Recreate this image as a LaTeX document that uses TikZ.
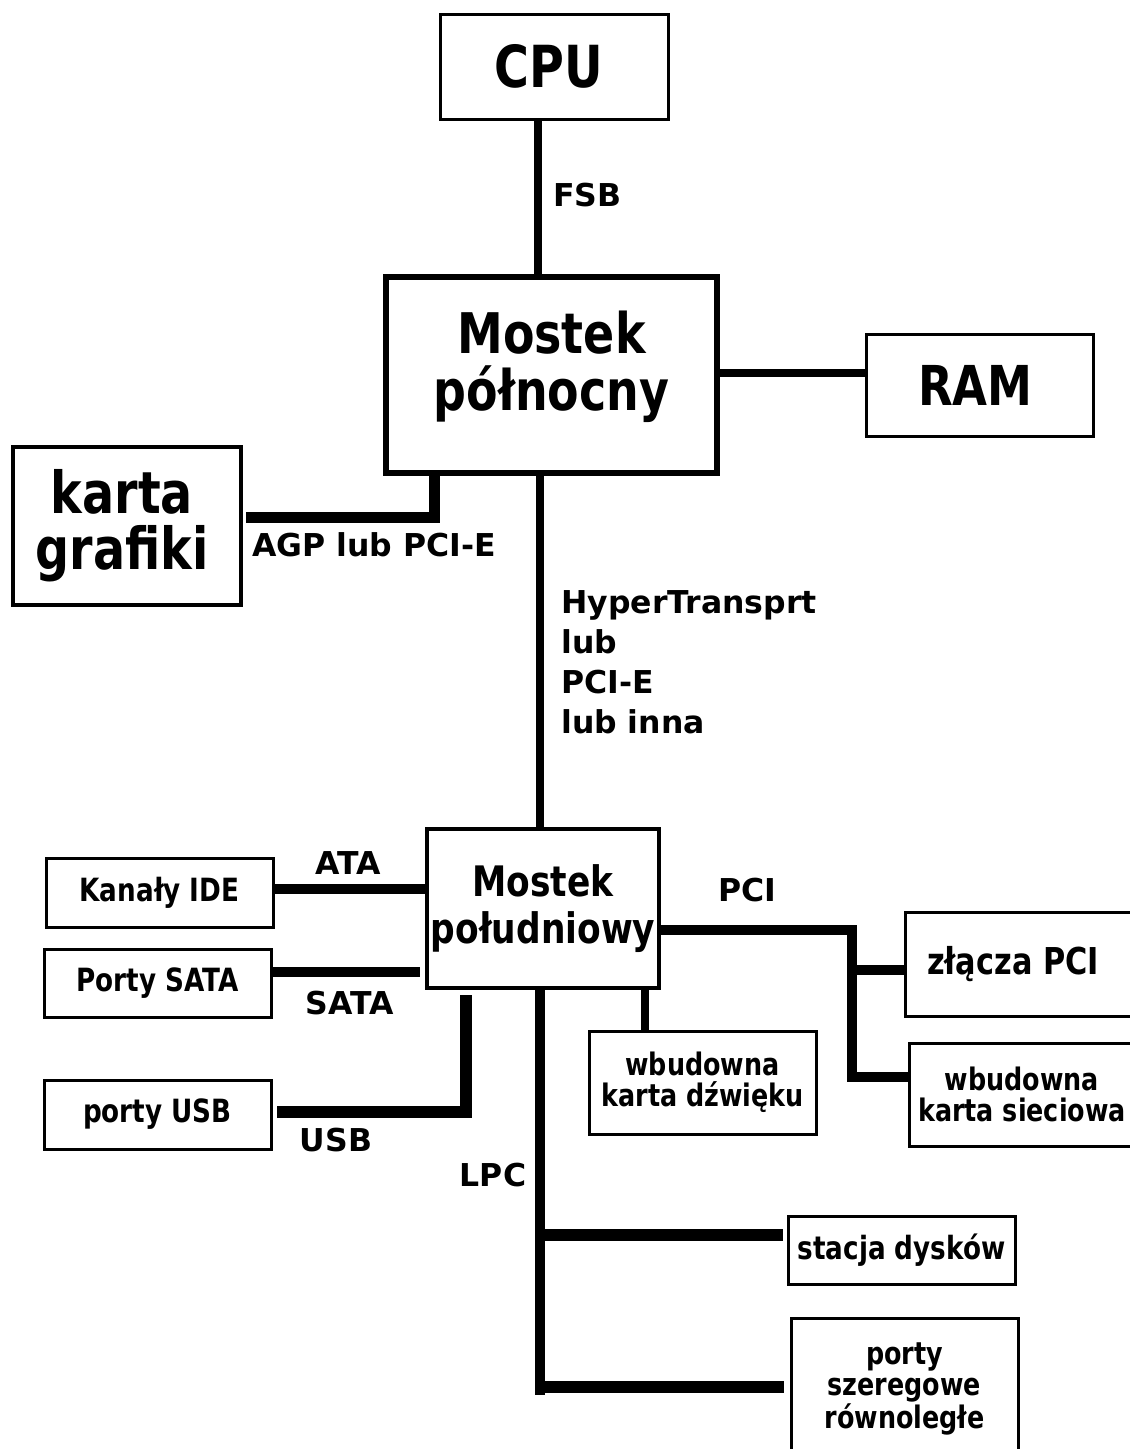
\documentclass[tikz,border=0pt]{standalone}
\usepackage{fontspec}
\newfontfamily\cf{DejaVu Sans}[FakeStretch=0.82]
\newfontfamily\lf{DejaVu Sans}
\newcommand\fsz[2]{\fontsize{#1}{#2}\selectfont}
\begin{document}
\begin{tikzpicture}[x=1pt,y=-1pt,
  box/.style={draw, line width=3pt, inner sep=0pt, align=center},
  bt/.style={font=\cf\bfseries\fsz{#1}{#1}},
  lbl/.style={font=\lf\bfseries\fsz{31.5}{40}, inner sep=0pt},
  bus/.style={line width=8pt}]
\path[fill=white,use as bounding box] (0,0) rectangle (1130,1449);
% boxes
\node[box, minimum width=228pt, minimum height=105pt, bt=58] (cpu) at (554,66.5) {\hspace*{-10pt}CPU};
\node[box, line width=6pt, minimum width=331pt, minimum height=196pt, font=\cf\bfseries\fsz{56}{57}] (nb) at (551.5,375) {Mostek\\północny\\[-28pt]\mbox{}};
\node[box, minimum width=227pt, minimum height=102pt, bt=55] (ram) at (979.5,385) {\hspace*{-8pt}RAM};
\node[box, line width=3.5pt, minimum width=228pt, minimum height=158pt, font=\cf\bfseries\fsz{58}{56}] (gpu) at (127,526) {\hspace*{-10pt}karta\\\hspace*{-10pt}grafiki};
\node[box, line width=3.5pt, minimum width=232pt, minimum height=159pt, font=\cf\bfseries\fsz{42}{47}] (sb) at (543,908.5) {Mostek\\południowy};
\node[box, minimum width=227pt, minimum height=69pt, bt=32] (ide) at (159.5,892.5) {Kanały IDE};
\node[box, minimum width=227pt, minimum height=68pt, bt=32] (sata) at (157.5,983) {Porty SATA};
\node[box, minimum width=227pt, minimum height=69pt, bt=32] (usb) at (157.5,1114.5) {porty USB};
\node[box, minimum width=227pt, minimum height=103pt, font=\cf\bfseries\fsz{31}{31}] (snd) at (702.5,1082.5) {wbudowna\\karta dźwięku};
\node[box, minimum width=230pt, minimum height=104pt, bt=37] (pci) at (1020,964) {\hspace*{-14pt}złącza PCI};
\node[box, minimum width=226pt, minimum height=103pt, font=\cf\bfseries\fsz{31}{31}] (net) at (1022,1094.5) {wbudowna\\karta sieciowa};
\node[box, minimum width=227pt, minimum height=68pt, bt=32] (fdd) at (901.5,1250) {stacja dysków};
\node[box, minimum width=227pt, minimum height=142pt, font=\cf\bfseries\fsz{31}{31}] (ser) at (904.5,1389) {porty\\szeregowe\\równoległe};
% helper coordinates
\coordinate (fsbx) at (538,0);
\coordinate (htx) at (540,0);
\coordinate (agpc) at (434,517);
\coordinate (ramy) at (0,373);
\coordinate (idey) at (0,889);
\coordinate (satae) at (420,972);
\coordinate (usbt) at (466,995);
\coordinate (usbc) at (466,1112);
\coordinate (pcic) at (852,930);
\coordinate (pcib) at (852,1077);
\coordinate (pcim) at (852,970);
\coordinate (sndx) at (645,0);
\coordinate (lpcb) at (540,1395);
\coordinate (fddy) at (545,1235);
\coordinate (sery) at (545,1387);
% connectors
\draw[bus] (cpu.south -| fsbx) -- (nb.north -| fsbx);
\draw[bus] (nb.east |- ramy) -- (ram.west |- ramy);
\draw[bus, line width=11pt, shorten >=3pt] (nb.south -| agpc) -- (agpc) -- (gpu.east |- agpc);
\draw[bus] (nb.south -| htx) -- (sb.north -| htx);
\draw[bus, line width=10pt] (ide.east |- idey) -- (sb.west |- idey);
\draw[bus, line width=10pt] (sata.east |- satae) -- (satae);
\draw[bus, line width=12pt, shorten >=4pt] (usbt) -- (usbc) -- (usb.east |- usbc);
\draw[bus] (sb.south -| sndx) -- (snd.north -| sndx);
\draw[bus, line width=10pt] (sb.east |- pcic) -- (pcic) -- (pcib) -- (net.west |- pcib);
\draw[bus, line width=10pt] (pcim) -- (pci.west |- pcim);
\draw[bus, line width=10pt] (sb.south -| htx) -- (lpcb);
\draw[bus, line width=12pt, shorten >=4pt] (fddy) -- (fdd.west |- fddy);
\draw[bus, line width=12pt, shorten >=6pt] (sery) -- (ser.west |- sery);
% labels
\node[lbl, anchor=west] (fsb) at (553,195) {FSB};
\node[lbl, anchor=west] (agp) at (252,545) {AGP lub PCI-E};
\node[lbl, anchor=north west, align=left] (ht) at (561,590) {HyperTransprt\\lub\\PCI-E\\lub inna};
\node[lbl] (ata) at (348,863) {ATA};
\node[lbl] (satal) at (350,1003) {SATA};
\node[lbl] (usbl) at (336,1140) {USB};
\node[lbl] (lpc) at (493,1175) {LPC};
\node[lbl] (pcil) at (747,890) {PCI};
\end{tikzpicture}
\end{document}
